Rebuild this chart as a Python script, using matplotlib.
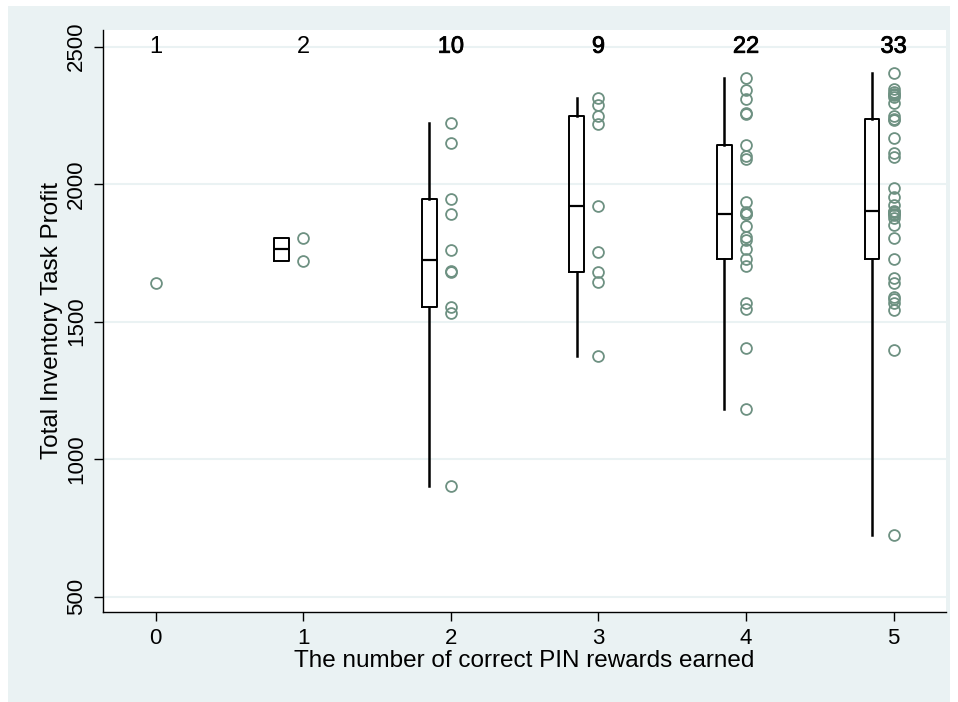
import matplotlib
matplotlib.use("Agg")
import matplotlib.pyplot as plt
import matplotlib.patches as mpatches
import matplotlib.patheffects as pe
import numpy as np

plt.rcParams['font.family'] = ['Liberation Sans', 'DejaVu Sans']

# number of correct PIN rewards earned (x categories)
categories = [0, 1, 2, 3, 4, 5]

# total inventory task profit, one list per category
profit_0 = [1640]
profit_1 = [1721, 1805]
profit_2 = [904, 1531, 1552, 1680, 1684, 1762, 1892, 1945, 2151, 2221]
profit_3 = [1375, 1643, 1679, 1754, 1922, 2218, 2248, 2288, 2312]
profit_4 = [1183, 1403, 1545, 1567, 1703, 1727, 1763, 1797, 1807, 1849,
            1891, 1893, 1898, 1936, 2091, 2103, 2143, 2254, 2260, 2309, 2343,
            2387]
profit_5 = [724, 1397, 1543, 1567, 1582, 1591, 1640, 1658, 1727, 1803, 1852,
            1876, 1888, 1893, 1898, 1900, 1904, 1924, 1955, 1985, 2098, 2112,
            2167, 2232, 2236, 2248, 2294, 2318, 2325, 2328, 2336, 2345, 2403]

groups = [profit_0, profit_1, profit_2, profit_3, profit_4, profit_5]

y_ticks = [500, 1000, 1500, 2000, 2500]

panel_color = '#eaf2f3'
point_color = '#6e9182'

fig = plt.figure(figsize=(9.58, 7.02), dpi=100)
fig.patch.set_facecolor('white')
# light outer panel (Stata s2color look)
fig.add_artist(mpatches.Rectangle((8 / 958, 0), 942 / 958, 696 / 702,
                                  transform=fig.transFigure,
                                  facecolor=panel_color, edgecolor='none',
                                  zorder=-10))

ax = fig.add_axes([0.1075, 0.1286, 0.88, 0.8287])
ax.set_facecolor('white')

# Stata-style percentiles
stats = []
box_pos = []
for x, vals in zip(categories, groups):
    v = np.array(vals, dtype=float)
    if len(v) < 2:
        continue
    q1, med, q3 = np.percentile(v, [25, 50, 75], method='averaged_inverted_cdf')
    stats.append(dict(med=med, q1=q1, q3=q3, whislo=v.min(), whishi=v.max(),
                      fliers=[]))
    box_pos.append(x - 0.147)

ax.bxp(stats, positions=box_pos, widths=0.1, showcaps=False,
       showfliers=False, patch_artist=False,
       boxprops=dict(color='black', linewidth=1.4),
       medianprops=dict(color='black', linewidth=1.6),
       whiskerprops=dict(color='black', linewidth=1.8),
       manage_ticks=False, zorder=3)

for x, vals in zip(categories, groups):
    ax.plot([x] * len(vals), vals, 'o', markersize=7.8, markerfacecolor='none',
            markeredgecolor=point_color, markeredgewidth=1.3, zorder=4)
    n = len(vals)
    txt = ax.text(x, 2500, str(n), ha='center', va='center', fontsize=17,
                  color='black', zorder=5)
    if n > 2:
        txt.set_path_effects([pe.withStroke(linewidth=0.6, foreground='black')])

ax.set_xlim(-0.357, 5.355)
ax.set_ylim(445, 2561)
ax.set_xticks(categories)
ax.set_yticks(y_ticks)
ax.set_yticklabels([str(t) for t in y_ticks], rotation=90, va='center')
ax.grid(axis='y', color=panel_color, linewidth=1.5, zorder=0)
ax.set_axisbelow(True)

ax.tick_params(axis='both', direction='out', length=6.5, width=1.0,
               labelsize=16, pad=5)
for side in ['top', 'right']:
    ax.spines[side].set_visible(False)
for side in ['left', 'bottom']:
    ax.spines[side].set_linewidth(1.0)

ax.set_xlabel('The number of correct PIN rewards earned', fontsize=17.5,
              labelpad=1)
ax.set_ylabel('Total Inventory Task Profit', fontsize=17.5, labelpad=2)

fig.savefig('out.png', dpi=100, facecolor='white')
